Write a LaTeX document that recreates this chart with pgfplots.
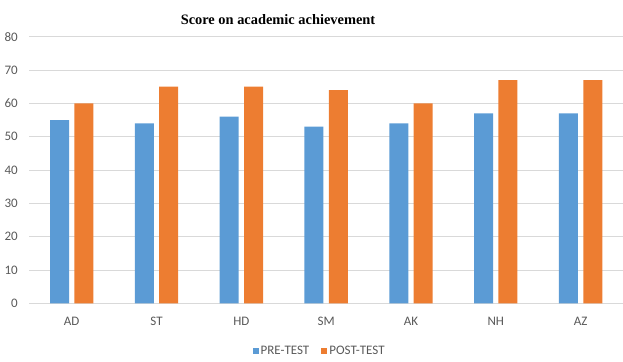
\documentclass[border=0pt]{standalone}
\usepackage{fontspec}
\setmainfont{Carlito}
\newfontfamily\titlefont{Liberation Serif}
\usepackage{pgfplots}
\pgfplotsset{compat=1.18}
\definecolor{preblue}{HTML}{5B9BD5}
\definecolor{postorange}{HTML}{ED7D31}
\definecolor{gridgray}{HTML}{D9D9D9}
\definecolor{labgray}{HTML}{595959}
\begin{document}
\begin{tikzpicture}
\begin{axis}[
  at={(29.3pt,57.7pt)}, anchor=south west,
  scale only axis, width=593.7pt, height=266.6pt,
  xmin=-0.5, xmax=6.5, ymin=0, ymax=80,
  ytick={0,10,...,80},
  xtick=data,
  xticklabels={AD,ST,HD,SM,AK,NH,AZ},
  ybar=5.4pt, bar width=19pt,
  axis line style={draw=none},
  major tick length=0pt,
  ymajorgrids, grid style={gridgray, line width=0.9pt},
  /pgf/number format/assume math mode=true,
  ticklabel style={font=\fontsize{13}{15}\selectfont, text=labgray},
  yticklabel style={xshift=-8pt},
  xticklabel style={yshift=-10pt},
  legend style={at={(0.489,-0.179)}, anchor=center, draw=none, fill=none,
    font=\fontsize{13}{15}\selectfont, text=labgray, legend columns=2,
    /tikz/every even column/.append style={column sep=10pt},
    inner sep=0pt, cells={anchor=west}},
  legend image code/.code={\fill[#1] (0pt,-3pt) rectangle (6pt,3pt);},
]
\addplot[fill=preblue, draw=none] coordinates {(0,55) (1,54) (2,56) (3,53) (4,54) (5,57) (6,57)};
\addplot[fill=postorange, draw=none] coordinates {(0,60) (1,65) (2,65) (3,64) (4,60) (5,67) (6,67)};
\legend{PRE-TEST, POST-TEST}
\end{axis}
\node at (278pt,341pt) {\titlefont\bfseries\fontsize{14.4}{17}\selectfont Score on academic achievement};
\pgfresetboundingbox
\path[use as bounding box] (0,0) rectangle (623pt,361pt);
\end{tikzpicture}
\end{document}
